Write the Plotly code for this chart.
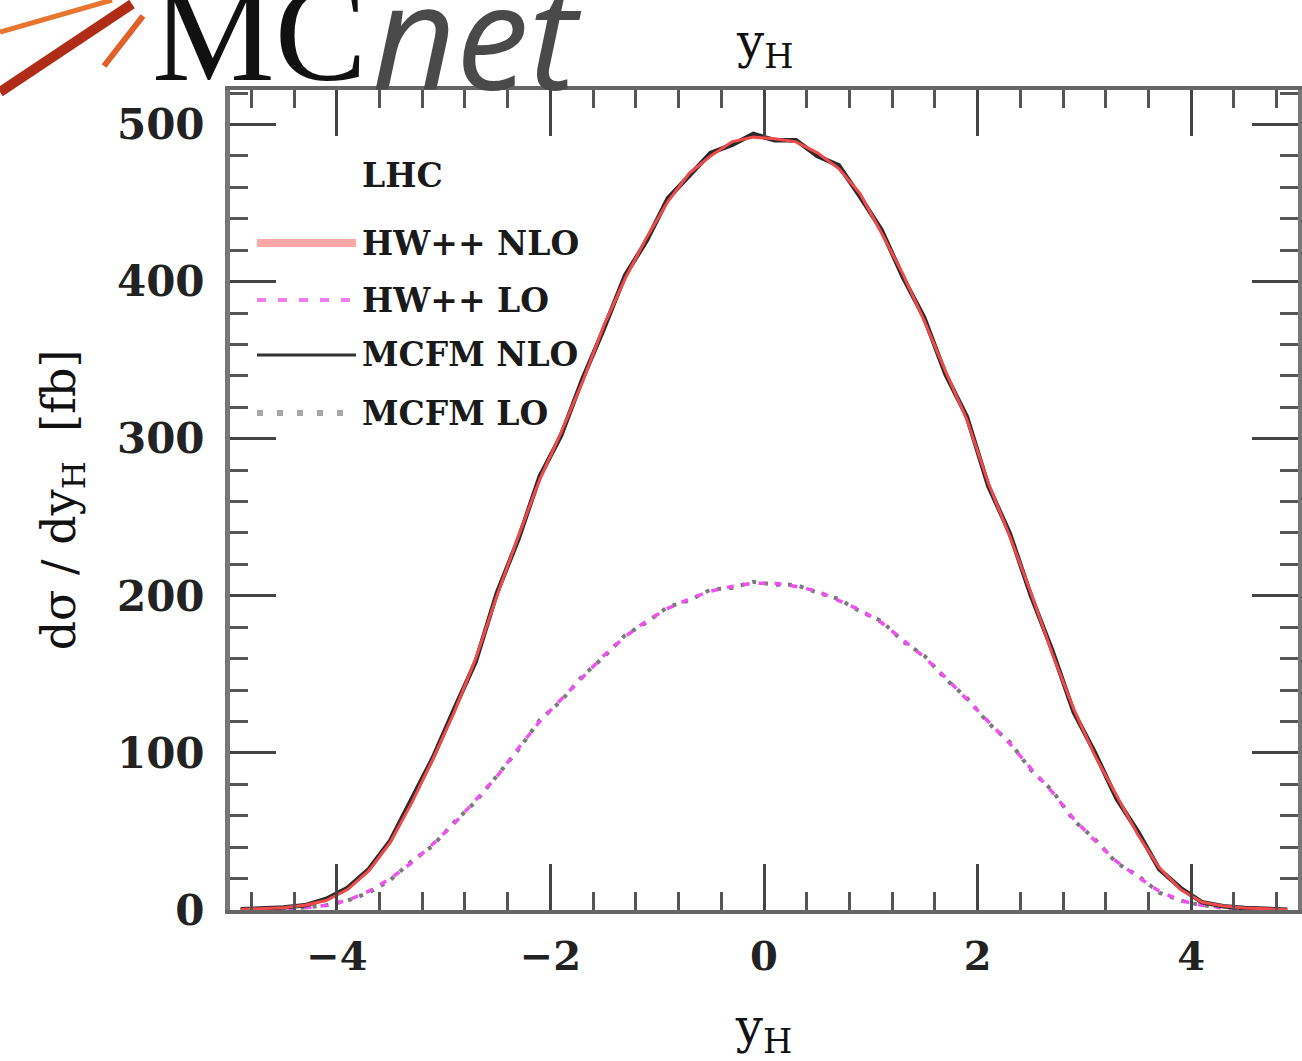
import plotly.graph_objects as go

# ---------------- data ----------------
bin_centres = [-4.9, -4.7, -4.5, -4.3, -4.1, -3.9, -3.7, -3.5, -3.3, -3.1,
               -2.9, -2.7, -2.5, -2.3, -2.1, -1.9, -1.7, -1.5, -1.3, -1.1,
               -0.9, -0.7, -0.5, -0.3, -0.1, 0.1, 0.3, 0.5, 0.7, 0.9,
               1.1, 1.3, 1.5, 1.7, 1.9, 2.1, 2.3, 2.5, 2.7, 2.9,
               3.1, 3.3, 3.5, 3.7, 3.9, 4.1, 4.3, 4.5, 4.7, 4.9]

hw_nlo = [0.3, 0.8, 1.5, 3, 6, 13, 25, 43, 68, 96,
          126, 160, 200, 238, 274, 304, 336, 372, 402, 428,
          451, 469, 480, 489, 492, 491, 489, 482, 472, 456,
          431, 405, 375, 343, 312, 272, 238, 202, 163, 128,
          98, 73, 48, 27, 13, 5, 2.5, 1.3, 0.6, 0.2]

mcfm_nlo = [0.4, 0.9, 1.6, 3, 7, 14, 26, 44, 70, 97,
            128, 158, 202, 236, 276, 302, 338, 370, 404, 426,
            453, 467, 482, 487, 494, 490, 490, 480, 474, 454,
            433, 403, 377, 341, 314, 270, 240, 200, 165, 126,
            100, 71, 50, 26, 14, 5, 2.4, 1.2, 0.7, 0.2]

hw_lo = [0.1, 0.3, 0.7, 1.5, 3, 6, 12, 20, 30, 42,
         55, 70, 85, 103, 120, 134, 148, 162, 174, 184,
         192, 198, 203, 206, 208, 208, 206, 203, 197, 191,
         183, 172, 161, 148, 134, 120, 106, 90, 75, 58,
         44, 31, 21, 12, 6, 3, 1.5, 0.7, 0.3, 0.1]

mcfm_lo = [0.1, 0.3, 0.8, 1.6, 3, 6, 11, 19, 31, 41,
           56, 69, 86, 102, 121, 133, 149, 161, 175, 183,
           193, 197, 204, 205, 209, 207, 207, 202, 198, 190,
           184, 171, 162, 147, 135, 119, 107, 89, 76, 57,
           45, 30, 22, 11, 6, 3, 1.4, 0.8, 0.3, 0.1]

x_ticks = [-4, -2, 0, 2, 4]
y_ticks = [0, 100, 200, 300, 400, 500]

legend_names = ["HW++ NLO", "HW++ LO", "MCFM NLO", "MCFM LO"]

# ---------------- figure ----------------
SERIF = "DejaVu Serif"
L, R, T, B = 230, 4, 90, 151
W, H = 1302, 1061
PW, PH = W - L - R, H - T - B


def pp(px, py):
    """pixel -> paper coordinates"""
    return (px - L) / PW, (H - B - py) / PH


fig = go.Figure()

fig.add_trace(go.Scatter(x=bin_centres, y=mcfm_lo, name=legend_names[3], mode="lines",
                         line=dict(color="#7a7a7a", width=4, dash="4px,8px")))
fig.add_trace(go.Scatter(x=bin_centres, y=hw_lo, name=legend_names[1], mode="lines",
                         line=dict(color="#f050f0", width=3.5, dash="7px,9px")))
fig.add_trace(go.Scatter(x=bin_centres, y=mcfm_nlo, name=legend_names[2], mode="lines",
                         line=dict(color="#2a2a2a", width=4.5)))
fig.add_trace(go.Scatter(x=bin_centres, y=hw_nlo, name=legend_names[0], mode="lines",
                         line=dict(color="#f04a4a", width=3)))

shapes = []
annotations = []

# ----- manual legend -----
leg_rows = [243, 300, 355, 413]
leg_styles = [
    dict(color="#ffa8a8", width=8, dash="solid"),
    dict(color="#f27af2", width=4, dash="9px,12px"),
    dict(color="#333333", width=3, dash="solid"),
    dict(color="#a8a8a8", width=6, dash="6px,14px"),
]
for name, ry, st in zip(legend_names, leg_rows, leg_styles):
    x0, y0 = pp(257, ry)
    x1, _ = pp(356, ry)
    shapes.append(dict(type="line", xref="paper", yref="paper", x0=x0, x1=x1, y0=y0, y1=y0,
                       line=st))
    tx, ty = pp(360, ry)
    annotations.append(dict(xref="paper", yref="paper", x=tx, y=ty, xanchor="left",
                            yanchor="middle", showarrow=False, text=name,
                            font=dict(family=SERIF, size=33, color="#1a1a1a", weight="bold")))
lx, ly = pp(360, 175)
annotations.append(dict(xref="paper", yref="paper", x=lx, y=ly, xanchor="left",
                        yanchor="middle", showarrow=False, text="LHC",
                        font=dict(family=SERIF, size=33, color="#1a1a1a", weight="bold")))

# ----- MCnet logo (decoration) -----
for (a, b, c, d, col, wd) in [
    (0, 32, 112, 0, "#e8762e", 5),
    (0, 92, 132, 4, "#b02c16", 10),
    (104, 66, 143, 16, "#e0602a", 6),
]:
    xa, ya = pp(a, b)
    xb, yb = pp(c, d)
    shapes.append(dict(type="line", xref="paper", yref="paper", x0=xa, y0=ya, x1=xb, y1=yb,
                       line=dict(color=col, width=wd)))
mx, my = pp(150, 34)
annotations.append(dict(xref="paper", yref="paper", x=mx, y=my, xanchor="left",
                        yanchor="middle", showarrow=False, text="MC",
                        font=dict(family="Liberation Serif", size=138, color="#111111")))
nx, ny = pp(370, 34)
annotations.append(dict(xref="paper", yref="paper", x=nx, y=ny, xanchor="left",
                        yanchor="middle", showarrow=False, text="<i>net</i>",
                        font=dict(family="Open Sans", size=146, color="#4a4a4a")))

# title y_H
annotations.append(dict(xref="paper", yref="paper", x=0.5, y=pp(0, 45)[1], xanchor="center",
                        yanchor="middle", showarrow=False, text="y<sub>H</sub>",
                        font=dict(family=SERIF, size=48, color="#111111")))

fig.update_layout(
    width=W, height=H,
    margin=dict(l=L, r=R, t=T, b=B, autoexpand=False),
    paper_bgcolor="white", plot_bgcolor="white",
    showlegend=False,
    shapes=shapes, annotations=annotations,
    font=dict(family=SERIF, color="#111111"),
)

fig.update_xaxes(
    range=[-5, 5], tickvals=x_ticks, ticktext=["\u22124", "\u22122", "0", "2", "4"],
    ticks="inside", ticklen=46, tickwidth=2.5, tickcolor="#444444",
    minor=dict(dtick=0.4, tick0=0, ticks="inside", ticklen=18, tickwidth=2.5, tickcolor="#555555"),
    showline=True, linecolor="#666666", linewidth=4, mirror="allticks",
    showgrid=False, zeroline=False,
    tickfont=dict(family=SERIF, size=40, color="#222222", weight="bold"),
    ticklabelstandoff=8,
    title=dict(text="y<sub>H</sub>", font=dict(family=SERIF, size=48, color="#111111"), standoff=40),
)
fig.update_yaxes(
    range=[0, 522], tickvals=y_ticks,
    ticks="inside", ticklen=46, tickwidth=2.5, tickcolor="#444444",
    minor=dict(dtick=20, tick0=0, ticks="inside", ticklen=18, tickwidth=2.5, tickcolor="#555555"),
    showline=True, linecolor="#777777", linewidth=5, mirror="allticks",
    showgrid=False, zeroline=False,
    tickfont=dict(family=SERIF, size=42, color="#222222", weight="bold"),
    ticklabelstandoff=12,
    title=dict(text="d\u03c3 / dy<sub>H</sub>  [fb]", font=dict(family=SERIF, size=46, color="#111111"),
               standoff=28),
)

fig.write_html("out.html")
